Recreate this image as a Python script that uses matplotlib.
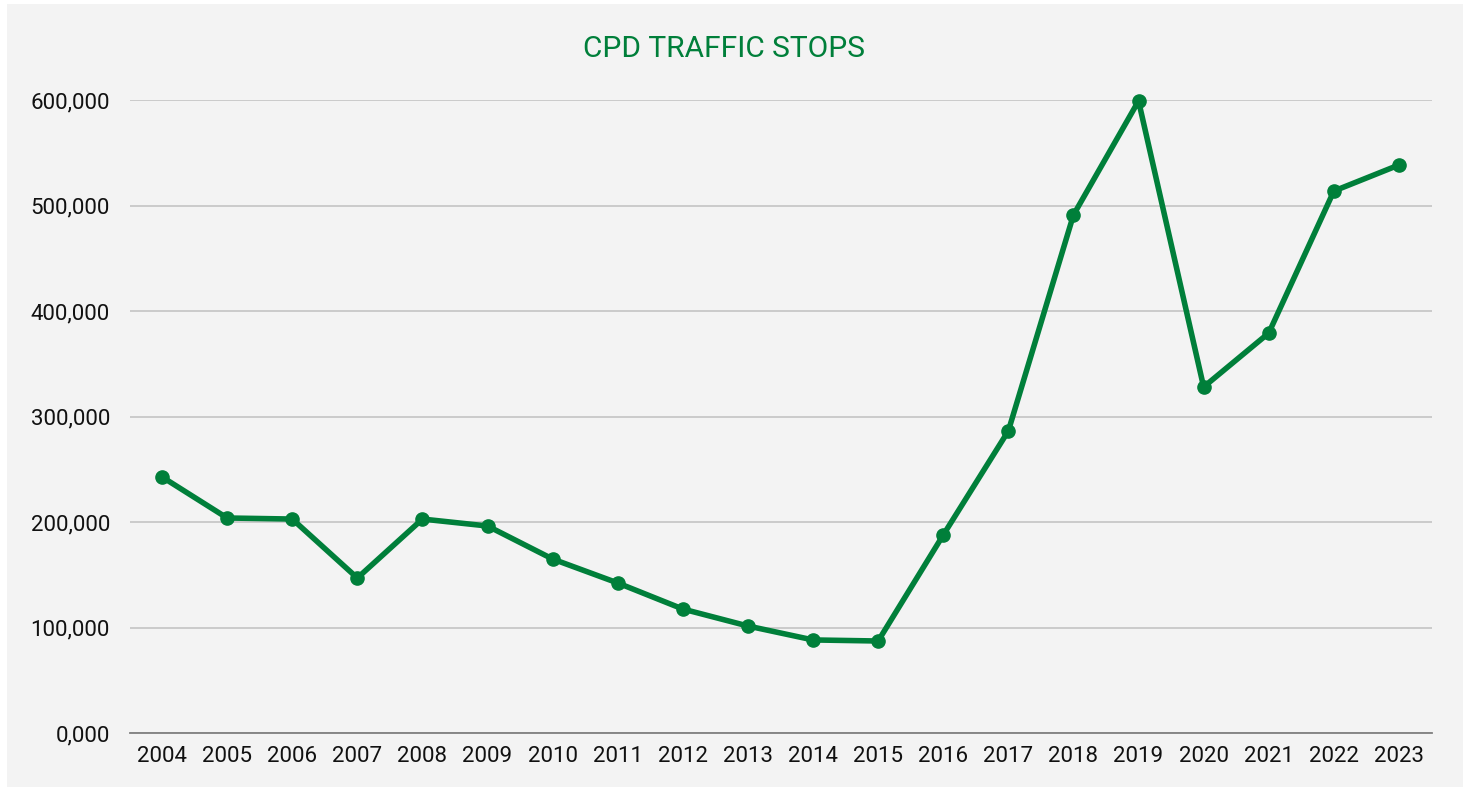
import matplotlib.pyplot as plt
from matplotlib.patches import Rectangle
from matplotlib.ticker import FuncFormatter

years = [str(y) for y in range(2004, 2024)]
stops = [242700, 203800, 202800, 146900, 202800, 196200, 164900, 142200,
         117500, 101400, 88200, 87200, 187700, 286300, 491000, 599100,
         328000, 379100, 513700, 538400]
y_ticks = [0, 100000, 200000, 300000, 400000, 500000, 600000]

GREEN = '#007f3a'
BG = '#f3f3f3'

plt.rcParams['font.family'] = ['Roboto', 'DejaVu Sans']

W, H = 1463, 787
fig = plt.figure(figsize=(W / 100, H / 100), dpi=100)
fig.patch.set_facecolor('white')
# gray panel, thin white border on top and left
fig.patches.append(Rectangle((7 / W, 0), 1 - 7 / W, 1 - 4 / H,
                             transform=fig.transFigure, facecolor=BG,
                             edgecolor='none', zorder=-10))

ax = fig.add_axes([129.5 / W, 1 - 733 / H, (1431.5 - 129.5) / W, (733 - 100) / H])
ax.set_facecolor(BG)

x = range(len(years))
ax.plot(x, stops, color=GREEN, lw=4.0, marker='o', ms=9.5,
        solid_joinstyle='round', zorder=3, clip_on=False)

ax.set_xlim(-0.5, len(years) - 0.5)
ax.set_ylim(0, 600000)
ax.set_xticks(list(x))
ax.set_xticklabels(years)
ax.set_yticks(y_ticks)
ax.yaxis.set_major_formatter(FuncFormatter(
    lambda v, p: '0,000' if v == 0 else '{:,.0f}'.format(v)))

ax.grid(axis='y', color='#bfbfbf', lw=1.1)
ax.set_axisbelow(True)
for s in ['top', 'right', 'left']:
    ax.spines[s].set_visible(False)
ax.spines['bottom'].set_color('#7f7f7f')
ax.spines['bottom'].set_linewidth(1.3)
ax.tick_params(length=0, labelsize=16, colors='#111111')
ax.tick_params(axis='x', pad=9)
ax.tick_params(axis='y', pad=14)

fig.text(724 / W, 1 - 49 / H, 'CPD TRAFFIC STOPS', color=GREEN,
         fontsize=21.5, ha='center', va='center')

fig.savefig('out.png', dpi=100)
